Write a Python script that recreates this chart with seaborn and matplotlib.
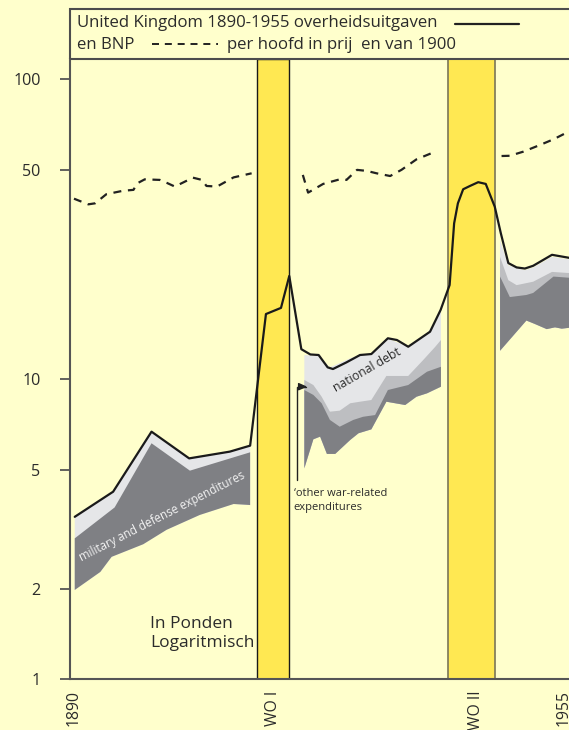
import numpy as np
import pandas as pd
import seaborn as sns
import matplotlib.pyplot as plt
from matplotlib.patches import Rectangle
from matplotlib.lines import Line2D
from matplotlib.ticker import NullLocator

# %% Data
# total government expenditure (solid line), pounds per head, log scale
total_years = [1890.1, 1895.2, 1900.3, 1905.3, 1910.7, 1913.4, 1915.5, 1917.5, 1918.6,
               1920.2, 1921.4, 1922.5, 1923.7, 1924.4, 1926.2, 1928.0, 1929.5, 1931.7,
               1932.9, 1934.4, 1937.3, 1938.7, 1939.9, 1940.5, 1941.0, 1941.7, 1942.6,
               1943.7, 1944.7, 1945.9, 1946.7, 1947.7, 1948.8, 1949.9, 1951.0, 1953.5, 1955.8]
total_vals = [3.48, 4.22, 6.69, 5.45, 5.74, 6.01, 16.5, 17.3, 22.1,
              12.6, 12.1, 12.05, 10.96, 10.82, 11.39, 12.05, 12.14, 13.7,
              13.52, 12.84, 14.41, 17.02, 20.62, 33.1, 38.6, 43.0, 44.1,
              45.4, 44.8, 37.6, 30.7, 24.4, 23.6, 23.4, 23.9, 26.0, 25.4]

# GDP per head in 1900 prices (dashed line), three peace-time pieces
gdp_pre_years = [1890.0, 1891.9, 1892.8, 1894.3, 1896.5, 1897.9, 1898.4, 1899.4, 1901.4,
                 1902.3, 1903.4, 1905.8, 1907.0, 1907.6, 1909.0, 1911.2, 1913.6]
gdp_pre_vals = [40.0, 38.3, 38.6, 41.4, 42.5, 42.8, 45.0, 46.4, 46.2,
                45.2, 43.9, 47.0, 46.2, 44.1, 43.9, 47.1, 48.6]
gdp_mid_years = [1920.4, 1921.1, 1923.1, 1925.3, 1926.2, 1927.6, 1928.9, 1930.2, 1932.0,
                 1933.5, 1935.5, 1938.0]
gdp_mid_vals = [48.0, 41.9, 44.8, 46.4, 46.2, 49.9, 49.5, 48.6, 47.6, 49.9, 54.1, 57.4]
gdp_post_years = [1946.8, 1947.9, 1949.7, 1951.9, 1953.7, 1955.7]
gdp_post_vals = [55.5, 55.6, 57.4, 60.4, 63.1, 66.9]

# pre-WWI bands: military/defense (dark) and the rest up to the total
pre_dark_top_years = [1890.1, 1895.4, 1900.3, 1905.4, 1913.4]
pre_dark_top_vals = [2.95, 3.74, 6.12, 4.96, 5.71]
pre_bottom_years = [1890.1, 1893.5, 1895.0, 1899.2, 1902.3, 1906.7, 1911.2, 1913.4]
pre_bottom_vals = [1.985, 2.28, 2.56, 2.82, 3.15, 3.53, 3.84, 3.81]

# interwar bands
mid_light_years = [1920.6, 1922.5, 1924.0, 1926.7, 1928.0, 1929.5, 1931.6, 1934.4, 1937.1, 1938.75]
mid_light_vals = [12.05, 11.96, 10.96, 11.75, 12.05, 12.12, 13.70, 12.84, 14.41, 17.02]
mid_other_years = [1920.6, 1921.8, 1922.9, 1924.0, 1925.3, 1926.7, 1928.0, 1929.5, 1931.5,
                   1934.4, 1936.4, 1938.0, 1938.75]
mid_other_vals = [9.95, 9.57, 8.75, 7.80, 7.86, 8.32, 8.42, 8.53, 10.26, 10.26, 11.60, 12.84, 13.52]
mid_dark_years = [1920.6, 1921.8, 1922.9, 1924.0, 1925.3, 1927.1, 1928.4, 1930.0, 1931.7,
                  1934.4, 1936.9, 1938.75]
mid_dark_vals = [9.21, 8.87, 8.32, 7.32, 6.95, 7.32, 7.50, 7.60, 9.21, 9.57, 10.60, 11.01]
mid_bottom_years = [1920.6, 1921.8, 1922.7, 1923.6, 1924.7, 1926.7, 1927.8, 1929.5, 1931.5,
                    1934.0, 1935.5, 1936.9, 1938.75]
mid_bottom_vals = [5.05, 6.31, 6.44, 5.64, 5.64, 6.28, 6.61, 6.81, 8.42, 8.21, 8.75, 8.98, 9.45]

# post-WWII bands
post_light_years = [1946.6, 1947.7, 1949.9, 1951.0, 1953.5, 1955.8]
post_light_vals = [29.1, 24.0, 23.1, 23.6, 25.6, 25.1]
post_other_years = [1946.6, 1947.7, 1948.8, 1951.0, 1953.5, 1955.8]
post_other_vals = [25.6, 21.4, 20.6, 21.15, 22.8, 22.6]
post_dark_years = [1946.6, 1947.9, 1950.1, 1951.0, 1953.7, 1955.8]
post_dark_vals = [22.0, 18.8, 19.1, 19.4, 22.0, 21.8]
post_bottom_years = [1946.6, 1950.1, 1951.2, 1952.8, 1953.9, 1954.8, 1955.8]
post_bottom_vals = [12.45, 15.7, 15.3, 14.7, 14.9, 14.75, 14.85]

wars = [(1914.35, 1918.6), (1939.72, 1945.93)]
tick_pos = [1890, 1916.4, 1943.4, 1955]
tick_labels = ['1890', 'WO I', 'WO II', '1955']
y_ticks = [1, 2, 5, 10, 50, 100]

# %% Style
BG = '#ffffcc'
WAR = '#ffe852'
LIGHT = '#e5e6e8'
MEDIUM = '#bdbec1'
DARK = '#7f8084'
AXC = '#555555'
TXT = '#2b2b2b'

sns.set_style("white")
plt.rcParams['font.family'] = ['Open Sans', 'DejaVu Sans']

fig = plt.figure(figsize=(5.69, 7.30), dpi=100, facecolor=BG)
ax = fig.add_axes([70 / 569, 1 - 679.3 / 730, 1 - 70 / 569, (679.3 - 59.3) / 730])
ax.set_facecolor(BG)
ax.set_yscale('log')
ax.set_xlim(1889.47, 1955.76)
ax.set_ylim(1, 10 ** (620 / 300))

# war bands
ax.axvspan(*wars[0], facecolor=WAR, edgecolor='#1a1a1a', lw=1.0, zorder=1)
ax.axvspan(*wars[1], facecolor=WAR, edgecolor='#7a7657', lw=1.2, zorder=1)


def band(xs_top, ys_top, xs_bot, ys_bot, color):
    ax.fill(np.r_[xs_top, xs_bot[::-1]], np.r_[ys_top, ys_bot[::-1]],
            color=color, lw=0, zorder=2)


# pre-WWI stack
band(total_years[:6], total_vals[:6], pre_bottom_years, pre_bottom_vals, LIGHT)
band(pre_dark_top_years, pre_dark_top_vals, pre_bottom_years, pre_bottom_vals, DARK)
# interwar stack
band(mid_light_years, mid_light_vals, mid_bottom_years, mid_bottom_vals, LIGHT)
band(mid_other_years, mid_other_vals, mid_bottom_years, mid_bottom_vals, MEDIUM)
band(mid_dark_years, mid_dark_vals, mid_bottom_years, mid_bottom_vals, DARK)
# post-WWII stack
band(post_light_years, post_light_vals, post_bottom_years, post_bottom_vals, LIGHT)
band(post_other_years, post_other_vals, post_bottom_years, post_bottom_vals, MEDIUM)
band(post_dark_years, post_dark_vals, post_bottom_years, post_bottom_vals, DARK)

# lines
df_total = pd.DataFrame({'year': total_years, 'value': total_vals})
sns.lineplot(data=df_total, x='year', y='value', ax=ax, color='#1a1a1a', lw=1.6,
             estimator=None, zorder=4)
dash = (0, (3.6, 3.0))
for yrs, vals in [(gdp_pre_years, gdp_pre_vals), (gdp_mid_years, gdp_mid_vals),
                  (gdp_post_years, gdp_post_vals)]:
    sns.lineplot(x=yrs, y=vals, ax=ax, color='#222222', lw=1.6, linestyle=dash,
                 estimator=None, zorder=4)

# annotations
ax.text(1901.65, 3.48, 'military and defense expenditures', rotation=27,
        rotation_mode='anchor', ha='center', va='center', fontsize=8.3,
        color='#f2f2f2', zorder=5)
ax.text(1929.0, 10.77, 'national debt', rotation=30, rotation_mode='anchor',
        ha='center', va='center', fontsize=8.8, color=TXT, zorder=5)
ax.text(1919.2, 3.95, '\u2018other war-related\nexpenditures', ha='left', va='center',
        fontsize=8, color=TXT, linespacing=1.35, zorder=5)
ax.annotate('', xy=(1920.99, 9.45), xytext=(1919.58, 4.62),
            arrowprops=dict(arrowstyle='-|>,head_length=0.5,head_width=0.22',
                            connectionstyle='angle,angleA=90,angleB=0,rad=0',
                            color='#222222', lw=1.0, shrinkA=0, shrinkB=0), zorder=5)
ax.text(1900.1, 1.42, 'In Ponden\nLogaritmisch', ha='left', va='center',
        fontsize=12.5, color=TXT, linespacing=1.3, zorder=5)

# axes
for side in ['top', 'right']:
    ax.spines[side].set_visible(False)
for side in ['left', 'bottom']:
    ax.spines[side].set_color(AXC)
    ax.spines[side].set_linewidth(1.5)
    ax.spines[side].set_zorder(6)

ax.set_yticks(y_ticks)
ax.set_yticklabels([str(t) for t in y_ticks])
ax.yaxis.set_minor_locator(NullLocator())
ax.tick_params(axis='y', which='major', direction='out', length=7.2, width=1.3,
               color=AXC, pad=14, labelsize=11.6, labelcolor=TXT, left=True)
ax.set_xticks(tick_pos)
ax.set_xticklabels(tick_labels, rotation=90)
ax.set_xticks([1955], minor=True)
ax.tick_params(axis='x', which='major', length=0, pad=8, labelsize=11.3, labelcolor=TXT)
ax.tick_params(axis='x', which='minor', direction='in', length=10, width=1.3, color=AXC,
               bottom=True)
ax.set_xlabel('')
ax.set_ylabel('')
ax.grid(False)

# legend box at the top
fig.add_artist(Rectangle((70 / 569, 1 - 59.3 / 730), 1.0, 50 / 730, transform=fig.transFigure,
                         fill=False, ec='#4d4d4d', lw=1.5, clip_on=False))
fig.text(77 / 569, 1 - 23 / 730, 'United Kingdom 1890-1955 overheidsuitgaven',
         ha='left', va='center', fontsize=12.1, color=TXT)
fig.text(77 / 569, 1 - 45 / 730, 'en BNP', ha='left', va='center', fontsize=12.1, color=TXT)
fig.text(227 / 569, 1 - 45 / 730, 'per hoofd in prij  en van 1900', ha='left', va='center',
         fontsize=12.1, color=TXT)
fig.add_artist(Line2D([455 / 569, 519 / 569], [1 - 24 / 730, 1 - 24 / 730],
                      transform=fig.transFigure, color='#222222', lw=1.6))
fig.add_artist(Line2D([152 / 569, 218 / 569], [1 - 43.5 / 730, 1 - 43.5 / 730],
                      transform=fig.transFigure, color='#222222', lw=1.4, linestyle=dash))

fig.savefig('out.png', dpi=100, facecolor=BG)
